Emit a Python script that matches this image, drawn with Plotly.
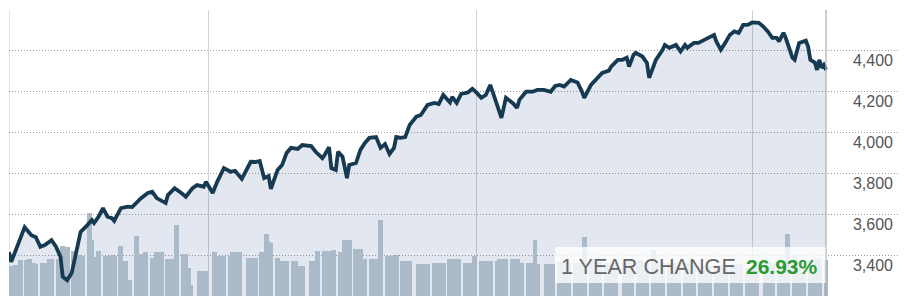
import pandas as pd
import plotly.graph_objects as go

# ---------------- data ----------------
start_date = "2020-10-04"
end_date = "2021-10-04"

# day offset from start_date, and index level
price_day = [0, 1, 7, 10, 12, 14, 16, 19, 21, 23, 24, 25, 26, 28, 30, 32, 35, 37, 38, 40,
             42, 44, 46, 47, 50, 53, 55, 58, 59, 62, 64, 66, 70, 71, 74, 77, 79, 82, 84, 87,
             88, 91, 93, 96, 99, 101, 104, 108, 110, 112, 114, 116, 117, 120, 122, 124, 126, 129, 131, 135,
             137, 140, 141, 143, 144, 146, 147, 149, 151, 152, 155, 157, 159, 161, 164, 166, 168, 170, 172, 173,
             175, 177, 179, 182, 184, 187, 190, 192, 194, 197, 198, 200, 202, 205, 207, 209, 211, 213, 215, 217,
             220, 222, 225, 227, 228, 231, 234, 236, 239, 242, 244, 246, 248, 251, 254, 256, 257, 260, 262, 265,
             268, 269, 272, 274, 276, 277, 279, 280, 283, 285, 286, 288, 289, 292, 293, 295, 298, 300, 302, 303,
             306, 308, 311, 315, 316, 318, 320, 322, 324, 326, 328, 330, 332, 335, 337, 339, 341, 343, 344, 346,
             347, 350, 351, 353, 356, 357, 358, 360, 361, 362, 363, 364, 365]
price_close = [3415, 3367, 3537, 3498, 3488, 3441, 3449, 3473, 3441, 3392, 3294, 3287, 3277, 3312, 3410, 3514, 3547, 3572, 3557, 3588,
               3630, 3588, 3581, 3568, 3630, 3637, 3635, 3670, 3679, 3704, 3710, 3679, 3655, 3694, 3728, 3704, 3686, 3728, 3743, 3735,
               3759, 3704, 3759, 3826, 3808, 3813, 3773, 3857, 3856, 3861, 3777, 3787, 3724, 3817, 3841, 3900, 3925, 3920, 3939, 3934,
               3906, 3875, 3890, 3929, 3826, 3817, 3906, 3882, 3777, 3841, 3851, 3915, 3949, 3974, 3978, 3925, 3944, 3895, 3925, 3978,
               3974, 3978, 4037, 4078, 4086, 4135, 4145, 4140, 4184, 4147, 4175, 4145, 4189, 4196, 4214, 4194, 4170, 4184, 4233, 4170,
               4072, 4170, 4145, 4121, 4160, 4200, 4200, 4209, 4209, 4200, 4228, 4233, 4225, 4258, 4245, 4200, 4170, 4233, 4258, 4292,
               4303, 4323, 4356, 4356, 4366, 4323, 4380, 4390, 4372, 4341, 4268, 4323, 4356, 4405, 4429, 4415, 4429, 4397, 4429, 4415,
               4439, 4439, 4454, 4478, 4446, 4405, 4439, 4478, 4495, 4488, 4527, 4527, 4539, 4537, 4519, 4495, 4464, 4464, 4446, 4488,
               4464, 4366, 4356, 4439, 4450, 4421, 4356, 4343, 4307, 4356, 4317, 4331, 4307]

# daily volume (millions of shares), one value per weekday (holidays = 0)
volume_mn = [
    1800, 1780, 1850, 1820, 2160,
    2160, 2200, 1980, 2010, 1950,
    1980, 2000, 1960, 2220, 2250,
    2220, 2100, 3000, 1680, 2940,
    2700, 2400, 2450, 2380, 2400,
    4980, 3360, 2340, 2360, 2700,
    2400, 2420, 2380, 2450, 2400,
    3000, 2100, 2080, 0, 960,
    3600, 2520, 2500, 2280, 2640,
    2280, 2300, 2640, 2620, 2650,
    2220, 2250, 2200, 2240, 4260,
    2520, 2500, 1680, 660, 0,
    1500, 1520, 1480, 1500, 0,
    2640, 2400, 2420, 2380, 2400,
    2400, 2640, 2620, 2660, 2640,
    0, 2280, 2300, 2260, 2280,
    2640, 2600, 3720, 3240, 3200,
    2280, 2100, 2120, 2080, 2100,
    2100, 2080, 1800, 1820, 1780,
    0, 2100, 2120, 2080, 2700,
    2700, 2720, 2680, 2700, 2740,
    2640, 2600, 3360, 3300, 3360,
    2820, 2800, 2840, 2220, 2240,
    2220, 2200, 2240, 2220, 4560,
    2400, 2420, 2380, 2400, 2440,
    2100, 2080, 2120, 2100, 0,
    1920, 1900, 1940, 1920, 1950,
    1980, 2000, 1960, 1990, 1980,
    2220, 2200, 2240, 2220, 2200,
    1980, 2000, 1960, 1980, 2400,
    2100, 2120, 2080, 2100, 2100,
    2100, 2220, 2240, 2200, 2220,
    2220, 2200, 2240, 1980, 1960,
    1980, 2000, 1960, 3360, 1920,
    0, 1920, 1940, 1900, 1920,
    2040, 2020, 2060, 2040, 2000,
    1980, 2000, 1960, 1980, 3540,
    2160, 2040, 2020, 2060, 2040,
    1980, 2000, 1960, 1990, 1980,
    0, 2040, 2020, 2100, 2080,
    2100, 2160, 2040, 2020, 2060,
    2760, 2160, 1980, 2000, 1960,
    1980, 2000, 1960, 1990, 1980,
    1980, 1960, 2000, 1980, 1990,
    1800, 1820, 1780, 1800, 1810,
    1860, 1880, 1850, 1860, 1870,
    1860, 1920, 1900, 1940, 1920,
    1680, 1700, 1660, 1690, 1680,
    0, 1980, 2000, 1960, 1990,
    1980, 2000, 1960, 1980, 3720,
    2400, 2160, 2180, 2140, 2160,
    2160, 2180, 2140, 2280, 2300,
    2160,
]

y_tick_values = [3400, 3600, 3800, 4000, 4200, 4400]
y_tick_labels = ["3,400", "3,600", "3,800", "4,000", "4,200", "4,400"]
change_label = "1 YEAR CHANGE"
change_value = "26.93%"

# ---------------- build ----------------
start = pd.Timestamp(start_date)
end = pd.Timestamp(end_date)
price_dates = start + pd.to_timedelta(price_day, unit="D")
vol_dates = pd.bdate_range(start + pd.Timedelta(days=1), end)
n = min(len(vol_dates), len(volume_mn))
vol_dates = vol_dates[:n]
volume_mn = volume_mn[:n]

W, H = 915, 303
ML, MR, MT, MB = 9, 17, 10, 7
plot_w = W - ML - MR
data_px = 817  # pixel span of the one-year window
x_end = start + pd.Timedelta(days=(end - start).days * plot_w / data_px)

LINE = "#163a52"
FONT = "Arial, Liberation Sans, sans-serif"

fig = go.Figure()
fig.add_trace(go.Scatter(
    x=price_dates, y=price_close, mode="lines", line=dict(width=0),
    fill="tozeroy", fillcolor="rgba(22,62,128,0.12)", hoverinfo="skip",
    showlegend=False, yaxis="y"))
fig.add_trace(go.Bar(
    x=vol_dates, y=volume_mn, width=2.2 * 86400000,
    marker=dict(color="#aabac8", line=dict(width=0)),
    hoverinfo="skip", showlegend=False, yaxis="y2"))
fig.add_trace(go.Scatter(
    x=price_dates, y=price_close, mode="lines",
    line=dict(color=LINE, width=3.8, shape="linear"),
    hoverinfo="skip", showlegend=False, yaxis="y3"))

fig.update_layout(
    width=W, height=H,
    margin=dict(l=ML, r=MR, t=MT, b=MB, pad=0),
    paper_bgcolor="white", plot_bgcolor="white",
    showlegend=False, bargap=0,
    font=dict(family=FONT),
    xaxis=dict(
        type="date", range=[start, x_end], showticklabels=False, ticks="",
        showgrid=True, gridcolor="#cdd4db", gridwidth=1,
        dtick="M4", tick0="2021-01-01", zeroline=False, showline=False,
        fixedrange=True),
    yaxis=dict(
        range=[3200, 4600], side="right", tickmode="array",
        tickvals=y_tick_values, ticktext=y_tick_labels,
        ticklabelposition="inside", ticklabelstandoff=2, ticklabelshift=10,
        tickfont=dict(family=FONT, size=16, color="#555555"),
        showgrid=True, gridcolor="#9c9c9c", gridwidth=1, griddash="1px,2px",
        zeroline=False, showline=False, ticks="", fixedrange=True),
    yaxis2=dict(range=[0, 17160], overlaying="y", visible=False, fixedrange=True),
    yaxis3=dict(range=[3200, 4600], overlaying="y", visible=False, fixedrange=True),
)

# chart frame lines at the start and end of the one-year window
fig.add_shape(type="line", xref="x", yref="paper", x0=start, x1=start, y0=0, y1=1,
              line=dict(color="#cdd4db", width=1.2), layer="below")
fig.add_shape(type="line", xref="x", yref="paper", x0=end, x1=end, y0=0, y1=1,
              line=dict(color="#a9adb2", width=1.2), layer="above")

# "1 YEAR CHANGE" box
def px_x(px):
    return (px - ML) / plot_w

def px_y(py):
    return (H - MB - py) / (H - MT - MB)

fig.add_shape(type="rect", xref="paper", yref="paper",
              x0=px_x(555), x1=px_x(825.5), y0=px_y(283), y1=px_y(247),
              fillcolor="rgba(255,255,255,0.78)", line=dict(width=0), layer="above")
fig.add_annotation(xref="paper", yref="paper", x=px_x(559), y=px_y(266),
                   xanchor="left", yanchor="middle", showarrow=False,
                   text=change_label, font=dict(family=FONT, size=21.6, color="#676767"))
fig.add_annotation(xref="paper", yref="paper", x=px_x(820), y=px_y(266),
                   xanchor="right", yanchor="middle", showarrow=False,
                   text="<b>" + change_value + "</b>",
                   font=dict(family=FONT, size=21, color="#2a9b32"))

fig.write_html("out.html", config={"displayModeBar": False})
